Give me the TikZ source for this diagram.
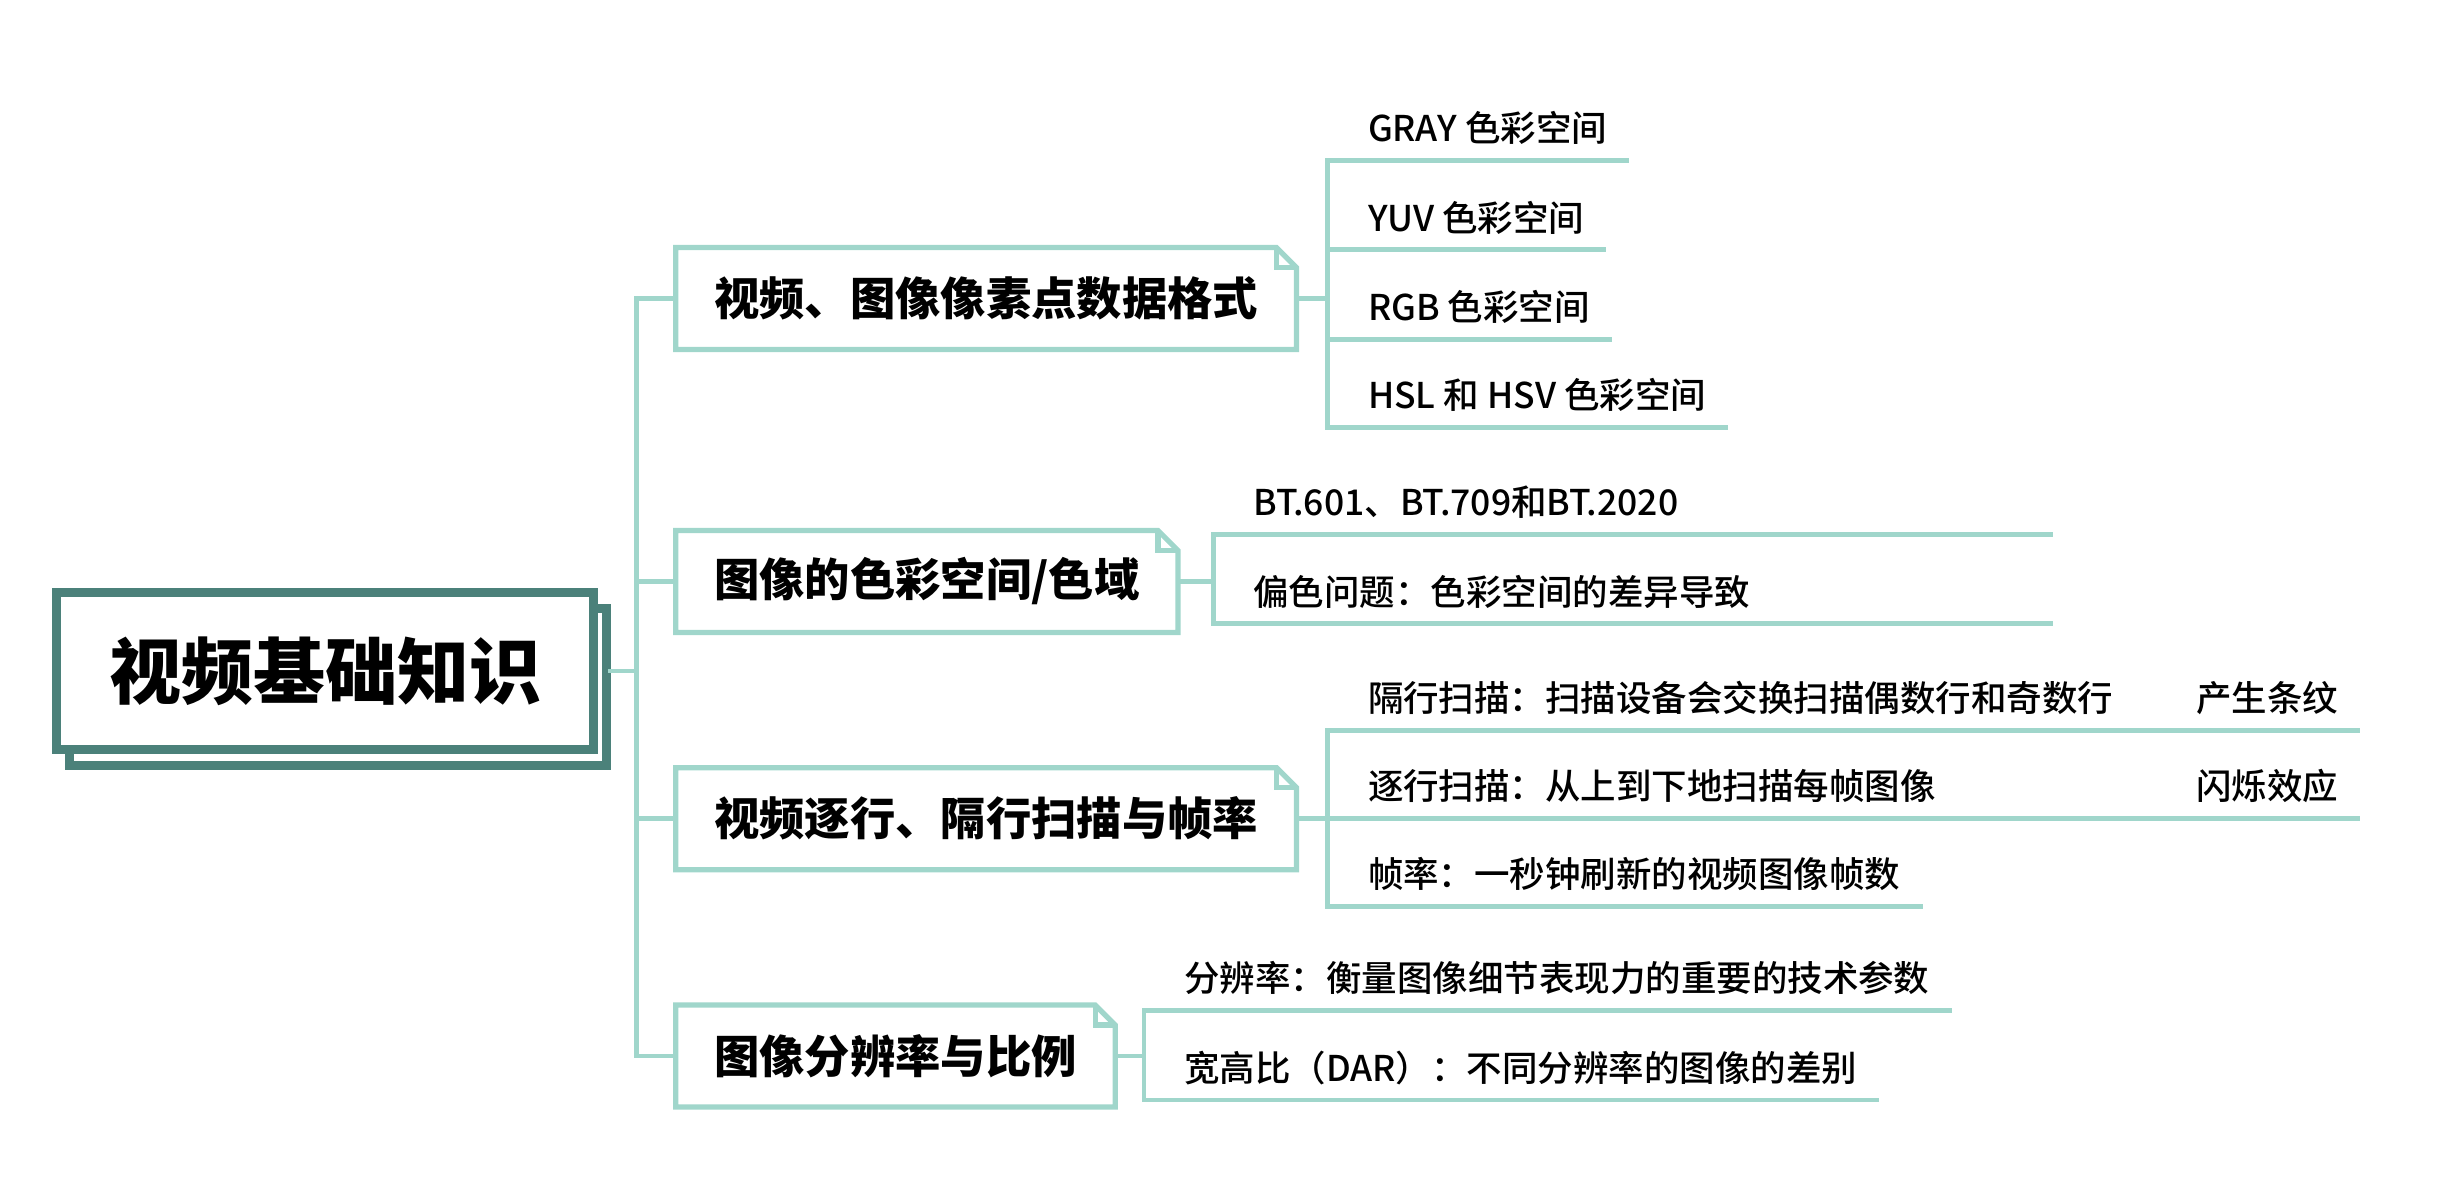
\documentclass[tikz,border=0pt]{standalone}
\usepackage{fontspec}
\setmainfont{Noto Sans CJK SC}
\newfontfamily\leaffont{Noto Sans CJK SC Medium}

\definecolor{mindline}{HTML}{A0D6CB}
\definecolor{rootline}{HTML}{4B817A}

\tikzset{
  branch/.style={draw=mindline, line width=1.4pt, line cap=rect},
  topicline/.style={draw=mindline, line width=1.5pt, line join=miter},
  topic/.style={inner xsep=0.377cm, inner ysep=0pt, minimum height=1.006cm, anchor=west,
                font=\fontsize{12.9pt}{15pt}\selectfont\bfseries},
  rootbox/.style={draw=rootline, line width=2.6pt, fill=white, minimum width=5.37cm,
                  minimum height=1.57cm, font=\fontsize{20.5pt}{24pt}\selectfont\bfseries},
  leaf/.style={inner xsep=0.19cm, inner ysep=0pt, anchor=base west,
               font=\leaffont\fontsize{10.1pt}{12pt}\selectfont},
}

\def\xT{405}
\def\xA{845}
\def\xB{772}
\def\xD{728}
\def\xG{1355}
\def\dE{0.2cm}

\begin{document}
\begin{tikzpicture}[x=0.015714cm, y=-0.015714cm]
    \useasboundingbox (0,0) rectangle (1568,763.6);

    %%   (lable)  (x, y)
    \coordinate (Trk) at (\xT, 0);

    \coordinate (Lgray)  at (\xA, 102);
    \coordinate (Lyuv)   at (\xA, 159);
    \coordinate (Lrgb)   at (\xA, 216);
    \coordinate (Lhsl)   at (\xA, 272);

    \coordinate (Lbt)    at (\xB, 340);
    \coordinate (Lcast)  at (\xB, 397);
    \coordinate (Ebt)    at (1305, 340);
    \coordinate (Ecast)  at (1305, 397);

    \coordinate (Linter) at (\xA, 465);
    \coordinate (Lprog)  at (\xA, 521);
    \coordinate (Lfps)   at (\xA, 577);
    \coordinate (Ginter) at (\xG, 465);
    \coordinate (Gprog)  at (\xG, 521);

    \coordinate (Lres)   at (\xD, 643);
    \coordinate (Ldar)   at (\xD, 700);

    %% root
    \node[rootbox] (RootShadow) at (215, 437) {};
    \node[rootbox] (Root)       at (207, 427) {视频基础知识};

    %% topics
    \node[topic] (T1) at (430, 190) {视频、图像像素点数据格式};
    \node[topic] (T2) at (430, 370) {图像的色彩空间/色域};
    \node[topic] (T3) at (430, 521) {视频逐行、隔行扫描与帧率};
    \node[topic] (T4) at (430, 672) {图像分辨率与比例};

    %% leaves
    \node[leaf] (Gray)  at (\xA+13,  90) {GRAY 色彩空间};
    \node[leaf] (Yuv)   at (\xA+13, 147) {YUV 色彩空间};
    \node[leaf] (Rgb)   at (\xA+13, 204) {RGB 色彩空间};
    \node[leaf] (Hsl)   at (\xA+13, 260) {HSL 和 HSV 色彩空间};

    \node[leaf] (Bt)    at (\xB+13, 328) {BT.601、BT.709和BT.2020};
    \node[leaf] (Cast)  at (\xB+13, 385) {偏色问题：色彩空间的差异导致};

    \node[leaf] (Inter) at (\xA+13, 453) {隔行扫描：扫描设备会交换扫描偶数行和奇数行};
    \node[leaf] (Prog)  at (\xA+13, 509) {逐行扫描：从上到下地扫描每帧图像};
    \node[leaf] (Fps)   at (\xA+13, 565) {帧率：一秒钟刷新的视频图像帧数};
    \node[leaf] (Stripe)  at (1385, 453) {产生条纹};
    \node[leaf] (Flicker) at (1385, 509) {闪烁效应};

    \node[leaf] (Res)   at (\xD+13, 631) {分辨率：衡量图像细节表现力的重要的技术参数};
    \node[leaf] (Dar)   at (\xD+13, 688) {宽高比（DAR）：不同分辨率的图像的差别};

    %% trunk
    \draw[branch] (Root.east -| RootShadow.east) -- (Root.east -| Trk);
    \draw[branch] (T1.west -| Trk) -- (T4.west -| Trk);
    \draw[branch] (T1.west -| Trk) -- (T1.west);
    \draw[branch] (T2.west -| Trk) -- (T2.west);
    \draw[branch] (T3.west -| Trk) -- (T3.west);
    \draw[branch] (T4.west -| Trk) -- (T4.west);

    %% branches
    \draw[branch] (T1.east) -- (T1.east -| Lgray);
    \draw[branch] (Lgray) -- (Lhsl);
    \draw[branch] (Lgray) -- (Lgray -| Gray.east);
    \draw[branch] (Lyuv)  -- (Lyuv -| Yuv.east);
    \draw[branch] (Lrgb)  -- (Lrgb -| Rgb.east);
    \draw[branch] (Lhsl)  -- (Lhsl -| Hsl.east);

    \draw[branch] (T2.east) -- (T2.east -| Lbt);
    \draw[branch] (Lbt) -- (Lcast);
    \draw[branch] (Lbt)   -- (Ebt);
    \draw[branch] (Lcast) -- (Ecast);

    \draw[branch] (T3.east) -- (T3.east -| Lprog);
    \draw[branch] (Linter) -- (Lfps);
    \draw[branch] (Linter) -- (Ginter) -- (Ginter -| Stripe.east);
    \draw[branch] (Lprog)  -- (Gprog)  -- (Gprog -| Flicker.east);
    \draw[branch] (Lfps)   -- (Lfps -| Fps.east);

    \draw[branch] (T4.east) -- (T4.east -| Lres);
    \draw[branch] (Lres) -- (Ldar);
    \draw[branch] (Lres) -- (Lres -| Res.east);
    \draw[branch] (Ldar) -- (Ldar -| Dar.east);

    %% folded corners
    \foreach \t in {T1,T2,T3,T4}{
      \draw[topicline] (\t.south west) -- (\t.north west) -- ([xshift=-\dE]\t.north east)
        -- ([yshift=-\dE]\t.north east) -- (\t.south east) -- cycle;
      \draw[topicline] ([xshift=-\dE]\t.north east) |- ([yshift=-\dE]\t.north east);
    }

  \end{tikzpicture}
\end{document}
